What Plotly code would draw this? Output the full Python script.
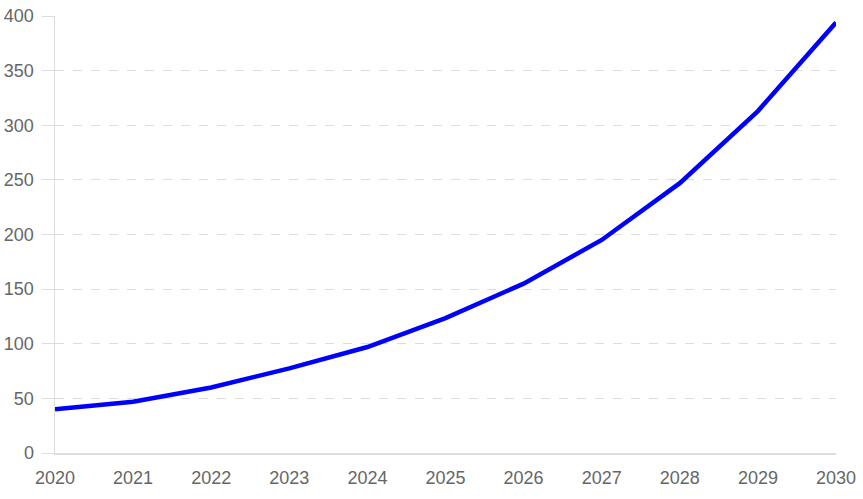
import plotly.graph_objects as go

years = [2020, 2021, 2022, 2023, 2024, 2025, 2026, 2027, 2028, 2029, 2030]
values = [40, 47, 60, 77.5, 97, 123.5, 155, 195, 247, 313, 394]
y_ticks = [0, 50, 100, 150, 200, 250, 300, 350, 400]

fig = go.Figure()
fig.add_trace(go.Scatter(
    x=years, y=values, mode="lines",
    line=dict(color="#0000ff", width=4.5),
    hoverinfo="skip", showlegend=False,
))

fig.update_layout(
    width=863, height=499,
    margin=dict(l=55, r=27, t=16, b=46, autoexpand=False),
    paper_bgcolor="white", plot_bgcolor="white",
    font=dict(family="Liberation Sans, Arial, sans-serif", size=18, color="#666666"),
    showlegend=False,
)
fig.update_xaxes(
    range=[2020, 2030], tickvals=years, ticktext=[str(y) for y in years],
    showgrid=False, zeroline=False, automargin=False,
    showline=True, linecolor="#dddddd", linewidth=1.5,
    ticks="", ticklabelstandoff=8,
)
fig.update_yaxes(
    range=[0, 400], tickvals=y_ticks,
    showgrid=True, gridcolor="#dcdcdc", griddash="dash", gridwidth=1,
    zeroline=False, automargin=False,
    showline=True, linecolor="#dddddd", linewidth=1.5,
    ticks="outside", ticklen=12, tickcolor="#dcdcdc", tickwidth=1,
    ticklabelstandoff=4,
)

# remove the default 8px page margin so the figure sits at the window's corner
fig.write_html(
    "out.html",
    config={"displayModeBar": False, "staticPlot": True},
    post_script="document.body.style.margin='0';document.body.style.overflow='hidden';",
)
